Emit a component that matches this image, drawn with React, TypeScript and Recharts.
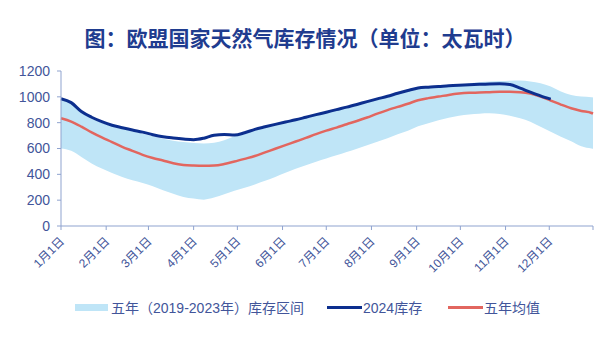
import { ComposedChart, Area, Line, XAxis, YAxis, Legend } from 'recharts';

// day of year (2024), sampled weekly
const days = [0, 7, 14, 21, 28, 35, 42, 49, 56, 63, 70, 77, 84, 91, 98, 105, 112, 119, 126, 133, 140, 147, 154, 161, 168, 175, 182, 189, 196, 203, 210, 217, 224, 231, 238, 245, 252, 259, 266, 273, 280, 287, 294, 301, 308, 315, 322, 329, 336, 343, 350, 357, 364, 365];

const bandLow = [600, 582, 535, 484, 445, 411, 380, 354, 333, 307, 276, 250, 224, 212, 204, 220, 246, 272, 296, 322, 350, 380, 412, 443, 471, 497, 522, 547, 572, 599, 626, 652, 680, 710, 738, 772, 795, 818, 838, 854, 864, 870, 873, 868, 854, 834, 808, 769, 730, 691, 657, 618, 600, 598];
const bandHigh = [975, 950, 880, 835, 800, 772, 752, 735, 715, 695, 675, 660, 650, 642, 638, 644, 664, 695, 722, 745, 765, 785, 803, 821, 840, 859, 879, 900, 920, 940, 961, 982, 1003, 1028, 1049, 1068, 1075, 1082, 1088, 1094, 1104, 1112, 1118, 1122, 1125, 1127, 1119, 1106, 1080, 1041, 1015, 1002, 997, 995];
const stock2024 = [985, 955, 886, 842, 808, 780, 761, 743, 727, 707, 691, 681, 673, 668, 680, 703, 708, 704, 722, 748, 768, 787, 805, 822, 842, 862, 881, 901, 920, 941, 963, 984, 1004, 1028, 1049, 1068, 1075, 1080, 1086, 1090, 1093, 1097, 1100, 1101, 1095, 1067, 1036, 1007, 982, null, null, null, null, null];
const avg5y = [834, 808, 769, 725, 686, 650, 613, 582, 551, 527, 507, 486, 473, 468, 466, 468, 480, 499, 520, 542, 570, 598, 626, 654, 682, 711, 738, 762, 788, 813, 840, 870, 897, 922, 946, 974, 990, 1002, 1015, 1025, 1031, 1033, 1036, 1039, 1039, 1036, 1025, 1002, 971, 940, 912, 891, 875, 870];

const monthTicks = [0, 31, 60, 91, 121, 152, 182, 213, 244, 274, 305, 335, 365];
const monthLabels = ['1月1日', '2月1日', '3月1日', '4月1日', '5月1日', '6月1日', '7月1日', '8月1日', '9月1日', '10月1日', '11月1日', '12月1日', ''];
const yTicks = [0, 200, 400, 600, 800, 1000, 1200];

const data = days.map((d, i) => ({
  day: d,
  band: [bandLow[i], bandHigh[i]],
  stock: stock2024[i],
  avg: avg5y[i],
}));

const FONT = '"Liberation Sans", Arial, "Noto Sans CJK SC", sans-serif';
const TEXT = '#42559a';
const AXIS = '#8fa3cf';
const BAND = '#bfe5f7';
const NAVY = '#0c2f8e';
const RED = '#e2665f';

const MonthTick = ({ x, y, payload }: any) => {
  const idx = monthTicks.indexOf(payload.value);
  const label = monthLabels[idx] || '';
  return (
    <text
      x={x + 4}
      y={y + 10}
      transform={`rotate(-45, ${x + 4}, ${y + 10})`}
      textAnchor="end"
      fontSize={12}
      fill={TEXT}
      fontFamily={FONT}
    >
      {label}
    </text>
  );
};

const LegendBox = () => (
  <div style={{ position: 'relative', height: 20, fontFamily: FONT, fontSize: 14, color: TEXT }}>
    <div style={{ position: 'absolute', left: 75, top: 7, width: 33, height: 7, background: BAND }} />
    <span style={{ position: 'absolute', left: 111, top: 0, whiteSpace: 'nowrap' }}>五年（2019-2023年）库存区间</span>
    <div style={{ position: 'absolute', left: 327, top: 9, width: 35, height: 3, background: NAVY }} />
    <span style={{ position: 'absolute', left: 363, top: 0, whiteSpace: 'nowrap' }}>2024库存</span>
    <div style={{ position: 'absolute', left: 448, top: 9, width: 35, height: 3, background: RED }} />
    <span style={{ position: 'absolute', left: 484, top: 0, whiteSpace: 'nowrap' }}>五年均值</span>
  </div>
);

export default function App() {
  return (
    <div style={{ position: 'absolute', left: 0, top: 0, width: 607, height: 340, background: '#fff' }}>
      <div
        style={{
          position: 'absolute',
          top: 23,
          left: 0,
          width: 610,
          textAlign: 'center',
          fontFamily: '"Noto Sans CJK SC", sans-serif',
          fontWeight: 700,
          fontSize: 21,
          lineHeight: '28px',
          color: '#1f3c8f',
        }}
      >
        图：欧盟国家天然气库存情况（单位：太瓦时）
      </div>
      <ComposedChart width={607} height={340} data={data} margin={{ top: 71, right: 14, bottom: 44, left: 0 }}>
        <XAxis
          dataKey="day"
          type="number"
          domain={[0, 365]}
          ticks={monthTicks}
          interval={0}
          height={50}
          stroke={AXIS}
          tickSize={4}
          tick={<MonthTick />}
        />
        <YAxis
          type="number"
          domain={[0, 1200]}
          ticks={yTicks}
          interval={0}
          width={61}
          stroke={AXIS}
          tickSize={4}
          tickMargin={7}
          tick={{ fill: TEXT, fontSize: 14, fontFamily: FONT }}
        />
        <Area
          dataKey="band"
          type="monotone"
          fill={BAND}
          fillOpacity={1}
          stroke="none"
          isAnimationActive={false}
        />
        <Line dataKey="avg" type="monotone" stroke={RED} strokeWidth={2.5} dot={false} isAnimationActive={false} />
        <Line dataKey="stock" type="monotone" stroke={NAVY} strokeWidth={3} dot={false} isAnimationActive={false} />
        <Legend content={<LegendBox />} wrapperStyle={{ top: 297, left: 0, width: 607 }} />
      </ComposedChart>
    </div>
  );
}
